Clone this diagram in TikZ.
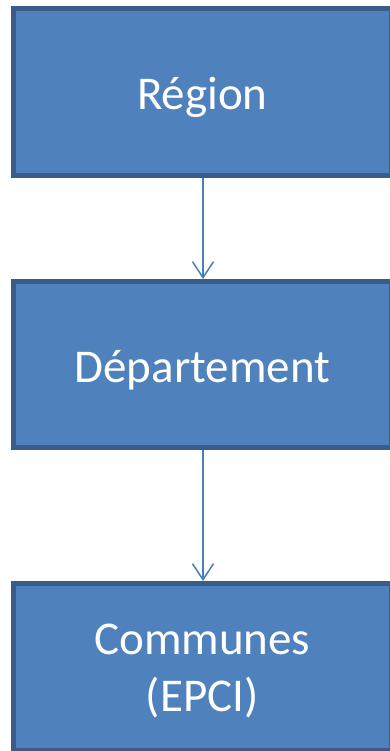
\documentclass[tikz,border=0pt]{standalone}
\usepackage{fontspec}
\setmainfont{Carlito}
\usetikzlibrary{arrows.meta}
\definecolor{boxfill}{HTML}{4F81BD}
\definecolor{boxline}{HTML}{385D8A}
\definecolor{arrowcol}{HTML}{4A7EBB}
\begin{document}
\begin{tikzpicture}[x=1pt,y=-1pt,
  levelbox/.style={draw=boxline, fill=boxfill, line width=5pt, rectangle,
    minimum width=377.5pt, inner sep=0pt},
  lbl/.style={text=white, align=center, inner sep=0pt,
    font=\fontsize{47}{56}\selectfont},
  link/.style={draw=arrowcol, line width=1.5pt,
    -{Straight Barb[length=16pt,width=21pt,line width=1.5pt]}}]
\useasboundingbox (0,0) rectangle (390,751);
\fill[white] (0,0) rectangle (390,751);
\node[levelbox, minimum height=167pt] (reg) at (202.25,92) {};
\node[levelbox, minimum height=166pt] (dep) at (202.25,364.5) {};
\node[levelbox, minimum height=167pt] (com) at (202.25,667) {};
\node[lbl] (regt) at ([yshift=-5pt]reg.center) {Région};
\node[lbl] (dept) at ([yshift=-6pt]dep.center) {Département};
\node[lbl] (comt) at ([yshift=-4pt]com.center) {Communes\\(EPCI)};
\draw[link] ([xshift=0.75pt]reg.south) -- ([xshift=0.75pt]dep.north);
\draw[link] ([xshift=0.75pt]dep.south) -- ([xshift=0.75pt]com.north);
\end{tikzpicture}
\end{document}
